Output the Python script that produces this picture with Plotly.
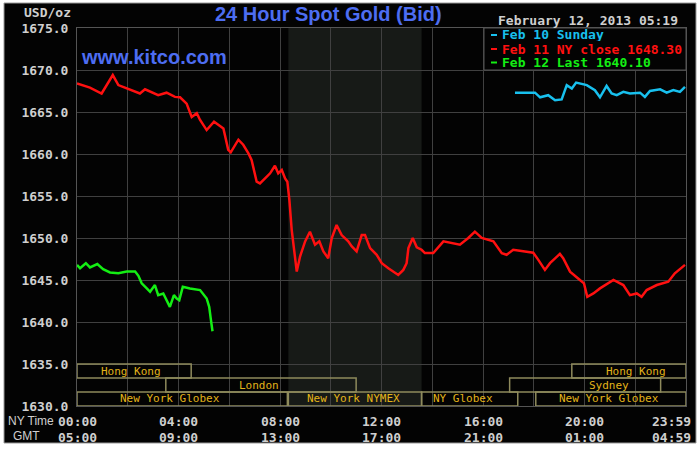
import plotly.graph_objects as go

# ---------------- data (hours since NY 00:00, price USD/oz) ----------------
red_hours = [0.00, 0.51, 0.97, 1.41, 1.63, 2.02, 2.48, 2.68, 3.01, 3.20, 3.53, 3.86, 4.06, 4.32,
             4.52, 4.72, 4.85, 5.11, 5.40, 5.77, 5.96, 6.06, 6.36, 6.55, 6.75, 6.88, 7.08, 7.21,
             7.48, 7.61, 7.80, 7.93, 8.07, 8.20, 8.29, 8.37, 8.46, 8.55, 8.66, 8.79, 8.99, 9.18,
             9.38, 9.55, 9.71, 9.90, 10.04, 10.23, 10.43, 10.69, 10.83, 11.02, 11.22, 11.35,
             11.55, 11.81, 12.01, 12.27, 12.66, 12.86, 12.99, 13.06, 13.23, 13.39, 13.58, 13.71,
             14.04, 14.44, 14.77, 15.09, 15.42, 15.68, 15.95, 16.41, 16.74, 16.93, 17.19, 17.59,
             17.98, 18.18, 18.44, 18.64, 19.03, 19.16, 19.43, 19.82, 19.98, 20.11, 20.35, 20.61,
             21.14, 21.53, 21.79, 22.06, 22.25, 22.45, 22.85, 23.30, 23.56, 23.96]
red_values = [1668.4, 1667.9, 1667.2, 1669.4, 1668.2, 1667.7, 1667.2, 1667.7, 1667.2, 1667.0,
              1667.3, 1666.8, 1666.75, 1666.0, 1664.4, 1664.85, 1664.05, 1662.85, 1663.85,
              1663.05, 1660.5, 1660.2, 1661.7, 1661.1, 1660.1, 1659.3, 1656.7, 1656.5, 1657.3,
              1657.7, 1658.6, 1657.7, 1658.1, 1657.1, 1656.7, 1654.5, 1651.0, 1648.6, 1646.0,
              1647.8, 1649.6, 1650.75, 1649.2, 1649.6, 1648.4, 1647.6, 1650.0, 1651.55, 1650.35,
              1649.6, 1649.0, 1648.4, 1650.35, 1650.35, 1648.8, 1648.0, 1647.0, 1646.4, 1645.6,
              1646.2, 1647.0, 1648.8, 1650.0, 1648.9, 1648.6, 1648.2, 1648.2, 1649.6, 1649.4,
              1649.2, 1650.0, 1650.75, 1650.0, 1649.6, 1648.2, 1648.0, 1648.6, 1648.4, 1648.25,
              1647.4, 1646.2, 1647.0, 1648.1, 1647.6, 1646.0, 1645.0, 1644.6, 1643.0, 1643.4,
              1644.0, 1645.0, 1644.4, 1643.2, 1643.4, 1643.0, 1643.8, 1644.4, 1644.8, 1645.8,
              1646.8]

blue_hours = [17.26, 18.05, 18.25, 18.57, 18.84, 19.10, 19.30, 19.50, 19.67, 20.09, 20.41, 20.61,
              20.87, 21.07, 21.27, 21.53, 21.79, 22.19, 22.38, 22.58, 22.98, 23.24, 23.50, 23.76,
              23.96]
blue_values = [1667.3, 1667.3, 1666.75, 1667.0, 1666.4, 1666.5, 1668.2, 1667.8, 1668.5, 1668.2,
               1667.6, 1666.75, 1668.1, 1667.2, 1667.0, 1667.4, 1667.2, 1667.3, 1666.8, 1667.5,
               1667.7, 1667.3, 1667.6, 1667.4, 1668.0]

green_hours = [0.00, 0.12, 0.35, 0.51, 0.80, 1.03, 1.30, 1.63, 1.96, 2.29, 2.42, 2.55, 2.75, 2.88,
               3.07, 3.20, 3.40, 3.60, 3.66, 3.82, 3.93, 4.03, 4.17, 4.45, 4.85, 5.11, 5.21, 5.28,
               5.34]
green_values = [1646.8, 1646.4, 1647.0, 1646.5, 1646.9, 1646.3, 1645.9, 1645.8, 1646.0, 1646.0,
                1645.5, 1644.6, 1644.0, 1643.6, 1644.4, 1643.2, 1643.4, 1642.0, 1641.8, 1643.2,
                1642.8, 1642.6, 1644.2, 1644.0, 1643.8, 1642.8, 1641.8, 1640.2, 1638.9]

legend_labels = ["Feb 10 Sunday", "Feb 11 NY close 1648.30", "Feb 12 Last 1640.10"]
ny_time_ticks = ["00:00", "04:00", "08:00", "12:00", "16:00", "20:00", "23:59"]
gmt_ticks = ["05:00", "09:00", "13:00", "17:00", "21:00", "01:00", "04:59"]
tick_hours = [0, 4, 8, 12, 16, 20, 24]

# sessions: (name, start hour, end hour, row, label hour)
session_names = ["Hong Kong", "London", "New York Globex", "New York NYMEX", "NY Globex",
                 "Sydney", "Hong Kong", "New York Globex"]
session_start = [0.0, 3.5, 0.0, 8.33, 13.58, 17.05, 19.5, 18.08]
session_end = [4.5, 11.0, 8.29, 13.58, 17.37, 23.0, 24.0, 24.0]
session_row = [0, 1, 2, 2, 2, 1, 0, 2]
session_label_at = [2.13, 7.17, 3.66, 10.91, 15.2, 20.97, 22.04, 20.96]
nymex_start, nymex_end = 8.33, 13.58

# ---------------- layout helpers ----------------
W, H = 700, 449
L, R, T, B = 77, 686, 28, 406


def xp(px):
    return (px - L) / (R - L)


def yp(py):
    return (B - py) / (B - T)


RED, BLUE, GREEN = "#ff1010", "#18c0ee", "#14ee14"
GRAY_TXT = "#cfcfcf"
GOLD = "#e2b31a"
BOXLINE = "#8e8a5c"
GRID = "#404040"
MONO = "DejaVu Sans Mono"

fig = go.Figure()
fig.add_trace(go.Scatter(x=red_hours, y=red_values, mode="lines",
                         line=dict(color=RED, width=2.5), showlegend=False))
fig.add_trace(go.Scatter(x=blue_hours, y=blue_values, mode="lines",
                         line=dict(color=BLUE, width=2.5), showlegend=False))
fig.add_trace(go.Scatter(x=green_hours, y=green_values, mode="lines",
                         line=dict(color=GREEN, width=2.5), showlegend=False))

shapes = []
# outer black frame
shapes.append(dict(type="rect", xref="paper", yref="paper", layer="below",
                   x0=xp(4), x1=xp(696), y0=yp(443), y1=yp(3),
                   fillcolor="#030303", line=dict(color="#9a9a9a", width=1)))
# NYMEX shading
shapes.append(dict(type="rect", xref="x", yref="y", layer="below",
                   x0=nymex_start, x1=nymex_end, y0=1630, y1=1675,
                   fillcolor="#171a17", line=dict(width=0)))
# session boxes
row_bounds = [(1633.33, 1635.0), (1631.67, 1633.33), (1630.0, 1631.67)]
annotations = []
for name, s, e, r, lab in zip(session_names, session_start, session_end, session_row,
                              session_label_at):
    y0, y1 = row_bounds[r]
    shapes.append(dict(type="rect", xref="x", yref="y", layer="above",
                       x0=s, x1=e, y0=y0, y1=y1, line=dict(color=BOXLINE, width=1.5)))
    annotations.append(dict(x=lab, y=(y0 + y1) / 2, xref="x", yref="y", text=name,
                            showarrow=False, font=dict(family=MONO, size=11, color=GOLD)))

# legend box
shapes.append(dict(type="rect", xref="paper", yref="paper", layer="above",
                   x0=xp(484), x1=xp(686), y0=yp(70), y1=yp(28),
                   fillcolor="#030303", line=dict(color="#555555", width=1)))
for lab, col, py in zip(legend_labels, [BLUE, RED, GREEN], [35, 49, 62.5]):
    shapes.append(dict(type="line", xref="paper", yref="paper", layer="above",
                       x0=xp(491), x1=xp(497), y0=yp(py), y1=yp(py),
                       line=dict(color=col, width=2)))
    annotations.append(dict(x=xp(500), y=yp(py), xref="paper", yref="paper", text=lab,
                            xanchor="left", yanchor="middle", showarrow=False, height=13,
                            font=dict(family=MONO, size=13, color=col, weight="bold")))

# titles and texts
annotations.append(dict(x=xp(328), y=yp(14), xref="paper", yref="paper",
                        text="24 Hour Spot Gold (Bid)", showarrow=False,
                        xanchor="center", yanchor="middle",
                        font=dict(family="Liberation Sans", size=20, color="#4d6df2",
                                  weight="bold")))
annotations.append(dict(x=xp(79), y=yp(57), xref="paper", yref="paper",
                        text="www.kitco.com", showarrow=False,
                        xanchor="left", yanchor="middle",
                        font=dict(family="Liberation Sans", size=20, color="#4d6df2",
                                  weight="bold")))
annotations.append(dict(x=xp(496), y=yp(20), xref="paper", yref="paper",
                        text="February 12, 2013 05:19", showarrow=False,
                        xanchor="left", yanchor="middle",
                        font=dict(family=MONO, size=13, color=GRAY_TXT, weight="bold")))
annotations.append(dict(x=xp(73), y=yp(12.5), xref="paper", yref="paper",
                        text="USD/oz", showarrow=False, xanchor="right", yanchor="middle",
                        font=dict(family=MONO, size=13, color=GRAY_TXT, weight="bold")))
annotations.append(dict(x=xp(30.5), y=yp(421), xref="paper", yref="paper",
                        text="NY Time", showarrow=False, xanchor="center", yanchor="middle",
                        font=dict(family="Liberation Sans", size=12, color=GRAY_TXT)))
annotations.append(dict(x=xp(26), y=yp(435.5), xref="paper", yref="paper",
                        text="GMT", showarrow=False, xanchor="center", yanchor="middle",
                        font=dict(family="Liberation Sans", size=12, color=GRAY_TXT)))
for h, t1, t2 in zip(tick_hours, ny_time_ticks, gmt_ticks):
    if h == 24:
        xa, xx = "right", xp(693)
    else:
        xa, xx = "center", h / 24
    for txt, py in ((t1, 421), (t2, 437.5)):
        annotations.append(dict(x=xx, y=yp(py), xref="paper", yref="paper", text=txt,
                                showarrow=False, xanchor=xa, yanchor="middle",
                                font=dict(family=MONO, size=13, color=GRAY_TXT,
                                          weight="bold")))
annotations.append(dict(x=xp(352), y=yp(456), xref="paper", yref="paper", text="Glossary",
                        showarrow=False, xanchor="center", yanchor="middle",
                        font=dict(family="Liberation Sans", size=14, color="#111111",
                                  weight="bold")))

fig.update_layout(
    width=W, height=H,
    margin=dict(l=L, r=W - R, t=T, b=H - B),
    paper_bgcolor="white",
    plot_bgcolor="rgba(0,0,0,0)",
    shapes=shapes,
    annotations=annotations,
    xaxis=dict(range=[0, 24], dtick=2, tick0=0, showgrid=True, gridcolor=GRID, gridwidth=1,
               showticklabels=False, zeroline=False, showline=True, linecolor="#555555",
               mirror=True, fixedrange=True),
    yaxis=dict(range=[1630, 1675], dtick=5, tick0=1630, showgrid=True, gridcolor=GRID,
               gridwidth=1, tickformat=".1f", ticks="", ticklabelstandoff=5,
               tickfont=dict(family=MONO, size=13, color=GRAY_TXT, weight="bold"),
               zeroline=False, showline=True, linecolor="#555555", mirror=True,
               fixedrange=True),
)

fig.write_html("out.html")
